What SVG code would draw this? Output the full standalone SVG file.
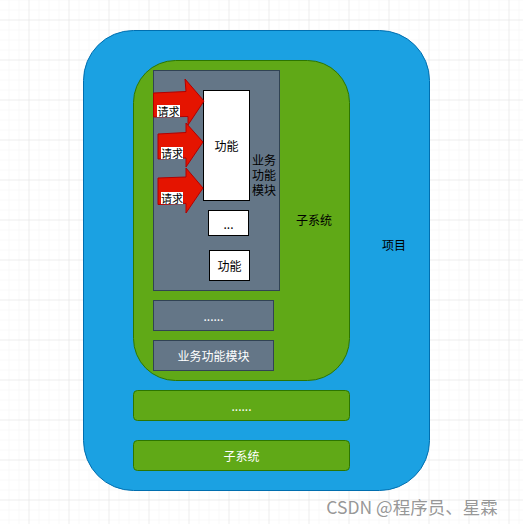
<svg xmlns="http://www.w3.org/2000/svg" width="523" height="524" viewBox="0 0 523 524">
<defs>
<pattern id="minor" x="0" y="0" width="10" height="10" patternUnits="userSpaceOnUse">
<path d="M10 0V10M0 10H10" fill="none" stroke="#f3f3f3" stroke-width="1"/>
</pattern>
<pattern id="major" x="-10.5" y="-19.5" width="40" height="40" patternUnits="userSpaceOnUse">
<rect width="40" height="40" fill="url(#minor)"/>
<path d="M40 0V40M0 40H40" fill="none" stroke="#e2e2e2" stroke-width="1"/>
</pattern>
<style>
text{font-family:"Noto Sans CJK SC","Liberation Sans",sans-serif;font-size:12px;text-anchor:middle;dominant-baseline:central}
.w{fill:#ffffff}
.k{fill:#000000}
.grey{fill:#647687;stroke:#314354;stroke-width:1}
.white{fill:#ffffff;stroke:#000000;stroke-width:1}
.green{fill:#60a917;stroke:#2d7600;stroke-width:1}
.arrow{fill:#e51400;stroke:#b20000;stroke-width:1}
.lbl{fill:#ffffff}
</style>
</defs>
<rect width="523" height="524" fill="#ffffff"/>
<rect width="523" height="524" fill="url(#major)"/>

<g id="project">
<rect x="83.5" y="30.5" width="346" height="460" rx="50" ry="50" fill="#1ba1e2" stroke="#006eaf"/>
<text x="394" y="244" class="k">项目</text>
</g>

<g id="subsystem1">
<rect x="133.5" y="60.5" width="216" height="320" rx="42" ry="42" class="green"/>
<text x="314" y="219" class="k">子系统</text>
</g>

<g id="module1">
<rect x="153.5" y="70.5" width="126" height="220" class="grey"/>
<text class="k" style="dominant-baseline:auto"><tspan x="264" y="164.5">业务</tspan><tspan x="264" y="179.5">功能</tspan><tspan x="264" y="194.5">模块</tspan></text>
</g>

<g id="func1">
<rect x="203.5" y="90.5" width="46" height="110" class="white"/>
<text x="226.5" y="145" class="k">功能</text>
</g>

<g id="func-more">
<rect x="208.5" y="210.5" width="40" height="25" class="white"/>
<text x="228.5" y="223" class="k">...</text>
</g>

<g id="func2">
<rect x="209.5" y="250.5" width="40" height="30" class="white"/>
<text x="229.5" y="265.5" class="k">功能</text>
</g>

<g id="connectors">
<g id="req1">
<path d="M153.5 93 L186 91.5 L185 79 L204 101 L188 125 L188 116.5 L153.5 117 Z" class="arrow"/>
<rect x="157" y="105" width="23" height="12" class="lbl"/>
<text x="168.5" y="111" class="k" style="font-size:11px">请求</text>
</g>
<g id="req2">
<path d="M158 134 L186 132.5 L186 123 L203 142 L186 167 L186 158 L158 159 Z" class="arrow"/>
<rect x="161" y="147" width="22" height="12" class="lbl"/>
<text x="172" y="153" class="k" style="font-size:11px">请求</text>
</g>
<g id="req3">
<path d="M158 178 L186 177 L186 168 L203 188 L186 213 L186 203.5 L158 204.5 Z" class="arrow"/>
<rect x="161" y="192" width="22" height="12" class="lbl"/>
<text x="172" y="198" class="k" style="font-size:11px">请求</text>
</g>
</g>

<g id="module-more">
<rect x="153.5" y="300.5" width="120" height="30" class="grey"/>
<text x="213.5" y="315.5" class="w">......</text>
</g>

<g id="module2">
<rect x="153.5" y="340.5" width="120" height="30" class="grey"/>
<text x="213.5" y="355.5" class="w">业务功能模块</text>
</g>

<g id="subsystem-more">
<rect x="133.5" y="390.5" width="216" height="30" rx="4" ry="4" class="green"/>
<text x="241.5" y="405.5" class="w">......</text>
</g>

<g id="subsystem2">
<rect x="133.5" y="440.5" width="216" height="30" rx="4" ry="4" class="green"/>
<text x="241.5" y="455.5" class="w">子系统</text>
</g>

<text x="412" y="506" style="font-size:17.5px;fill:#8a8a8a;fill-opacity:0.9">CSDN @程序员、星霖</text>
</svg>
